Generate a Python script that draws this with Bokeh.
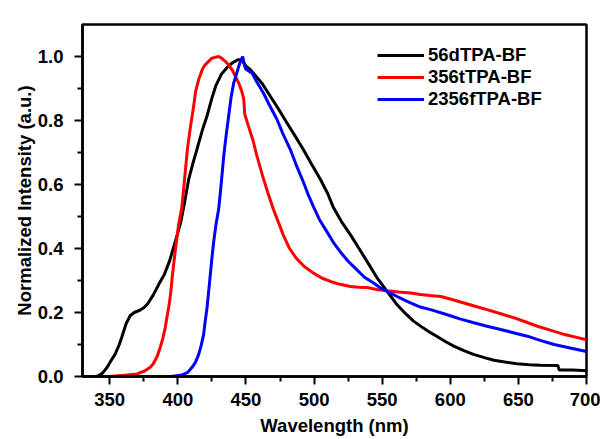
from bokeh.plotting import figure
from bokeh.models import FixedTicker, Legend, LegendItem, Range1d, PrintfTickFormatter
from bokeh.embed import file_html
from bokeh.resources import INLINE

# ---- tick labels / axes -------------------------------------------------
x_ticks = [350, 400, 450, 500, 550, 600, 650, 700]
x_minor = [375, 425, 475, 525, 575, 625, 675]
y_ticks = [0.0, 0.2, 0.4, 0.6, 0.8, 1.0]
y_minor = [0.1, 0.3, 0.5, 0.7, 0.9]

series_names = ["56dTPA-BF", "356tTPA-BF", "2356fTPA-BF"]
series_colors = ["#000000", "#ff0000", "#0000ff"]

# ---- 56dTPA-BF (black) --------------------------------------------------
wl_56d = [330, 340, 342, 345, 348, 351, 354, 357, 359, 362, 365, 368, 372, 375,
          378, 382, 386, 390, 394, 398, 402, 405, 408, 411, 414, 418, 421.4,
          425, 428, 432, 436, 440, 444, 447, 450, 453, 458, 462, 468, 474, 480,
          486, 492, 498, 504.5, 510, 514, 520, 527, 533, 539, 546, 553.6, 561,
          567, 573, 580, 585.5, 590, 596, 602.6, 610, 617, 625, 632, 640, 649,
          658, 666, 679, 680, 690, 700]
int_56d = [0.0, 0.0, 0.003, 0.012, 0.028, 0.05, 0.07, 0.1, 0.125, 0.165, 0.19,
           0.2, 0.207, 0.215, 0.228, 0.255, 0.288, 0.318, 0.362, 0.42, 0.48,
           0.545, 0.617, 0.665, 0.71, 0.77, 0.814, 0.87, 0.91, 0.945, 0.965,
           0.98, 0.99, 0.99, 0.97, 0.96, 0.935, 0.915, 0.875, 0.835, 0.793,
           0.752, 0.71, 0.665, 0.617, 0.572, 0.53, 0.485, 0.441, 0.40, 0.359,
           0.31, 0.266, 0.224, 0.197, 0.173, 0.152, 0.137, 0.126, 0.11, 0.095,
           0.081, 0.069, 0.059, 0.051, 0.045, 0.04, 0.037, 0.035, 0.034, 0.02,
           0.02, 0.018]

# ---- 356tTPA-BF (red) ---------------------------------------------------
wl_356t = [330, 350, 361, 370, 376, 380, 382, 385, 387, 389, 390.7, 392, 393.6,
           395, 396, 398, 400.5, 403, 405.4, 407, 409, 411.6, 413, 415.3, 418,
           420, 425, 430, 432, 434.8, 437, 439.8, 442, 444.7, 447, 448.4, 449.1,
           452, 455, 458, 462, 466, 470, 474, 477.5, 482, 487, 493, 499.6, 506,
           512, 519, 526.6, 533, 539, 546, 553.6, 562, 571, 578, 585, 593, 600,
           607.5, 617, 627, 637, 647, 655, 664, 674, 684, 692, 700]
int_356t = [0.0, 0.0, 0.004, 0.008, 0.018, 0.03, 0.04, 0.065, 0.09, 0.12, 0.152,
            0.185, 0.224, 0.27, 0.317, 0.39, 0.473, 0.53, 0.638, 0.71, 0.773,
            0.845, 0.89, 0.928, 0.96, 0.974, 0.995, 1.0, 0.995, 0.985, 0.975,
            0.959, 0.94, 0.917, 0.89, 0.866, 0.82, 0.78, 0.74, 0.69, 0.63,
            0.575, 0.524, 0.48, 0.441, 0.40, 0.369, 0.343, 0.323, 0.307, 0.297,
            0.288, 0.281, 0.279, 0.278, 0.272, 0.268, 0.264, 0.261, 0.256,
            0.253, 0.25, 0.242, 0.233, 0.221, 0.209, 0.196, 0.183, 0.171, 0.157,
            0.144, 0.131, 0.123, 0.115]

# ---- 2356fTPA-BF (blue) -------------------------------------------------
wl_2356f = [330, 395, 403, 407, 410.3, 413, 415.3, 417, 418.9, 420, 421.4, 422.6,
            423.8, 425, 426.3, 428, 430, 432, 433.7, 435.5, 437.3, 439, 441, 443,
            444.7, 446, 447.6, 449, 450, 452, 454.5, 458, 462.8, 467, 472.7, 477,
            482.5, 487, 492.2, 496, 499.6, 504, 509.5, 514, 519.2, 525, 531.5,
            537, 543.7, 548, 553.6, 561, 568.3, 578, 585.5, 597.8, 607, 617.3,
            627, 637, 647, 656.6, 666, 676.2, 688, 700]
int_2356f = [0.0, 0.0, 0.005, 0.012, 0.028, 0.045, 0.069, 0.095, 0.131, 0.17,
             0.214, 0.265, 0.317, 0.37, 0.421, 0.475, 0.524, 0.61, 0.69, 0.755,
             0.814, 0.87, 0.917, 0.945, 0.969, 0.985, 1.0, 0.97, 0.96, 0.955,
             0.948, 0.92, 0.886, 0.85, 0.804, 0.76, 0.71, 0.66, 0.607, 0.565,
             0.53, 0.49, 0.452, 0.42, 0.39, 0.36, 0.333, 0.31, 0.292, 0.279,
             0.266, 0.25, 0.235, 0.217, 0.209, 0.193, 0.18, 0.168, 0.157, 0.147,
             0.136, 0.126, 0.113, 0.1, 0.089, 0.078]

FONT = "Liberation Sans"
FS = "18.5px"

p = figure(width=600, height=438, output_backend="svg", toolbar_location=None,
           x_range=Range1d(330, 700), y_range=Range1d(0, 1.1),
           min_border_left=82, min_border_right=14, min_border_top=24,
           min_border_bottom=59)
p.background_fill_color = "white"
p.border_fill_color = "white"
p.xgrid.visible = False
p.ygrid.visible = False
p.outline_line_color = "black"
p.outline_line_width = 2.5
p.outline_line_alpha = 1.0

for ax in (p.xaxis[0], p.yaxis[0]):
    ax.axis_line_width = 2.5
    ax.major_tick_line_width = 2
    ax.minor_tick_line_width = 2
    ax.major_tick_in = 0
    ax.major_tick_out = 8
    ax.minor_tick_in = 0
    ax.minor_tick_out = 5
    ax.major_label_text_font = FONT
    ax.major_label_text_font_size = FS
    ax.major_label_text_font_style = "bold"
    ax.major_label_text_color = "black"
    ax.axis_label_text_font = FONT
    ax.axis_label_text_font_size = FS
    ax.axis_label_text_font_style = "bold"
    ax.axis_label_text_color = "black"

p.xaxis[0].ticker = FixedTicker(ticks=x_ticks, minor_ticks=x_minor)
p.yaxis[0].ticker = FixedTicker(ticks=y_ticks, minor_ticks=y_minor)
p.yaxis[0].formatter = PrintfTickFormatter(format="%.1f")
p.xaxis[0].axis_label = "Wavelength (nm)"
p.yaxis[0].axis_label = "Normalized Intensity (a.u.)"
p.xaxis[0].major_label_standoff = 8
p.xaxis[0].axis_label_standoff = 6
p.yaxis[0].major_label_standoff = 11
p.yaxis[0].axis_label_standoff = 0

renderers = []
for wl, vals, color in ((wl_56d, int_56d, series_colors[0]),
                        (wl_356t, int_356t, series_colors[1]),
                        (wl_2356f, int_2356f, series_colors[2])):
    r = p.line(wl, vals, line_color=color, line_width=3)
    renderers.append(r)

legend = Legend(items=[LegendItem(label=n, renderers=[r]) for n, r in zip(series_names, renderers)],
                location=(295, 266))
legend.border_line_color = None
legend.background_fill_alpha = 0
legend.label_text_font = FONT
legend.label_text_font_size = FS
legend.label_text_font_style = "bold"
legend.label_text_color = "black"
legend.glyph_width = 47
legend.glyph_height = 20
legend.label_standoff = 4
legend.padding = 5
legend.spacing = -1
legend.margin = 0
p.add_layout(legend)

open("out.html", "w").write(file_html(p, INLINE))
